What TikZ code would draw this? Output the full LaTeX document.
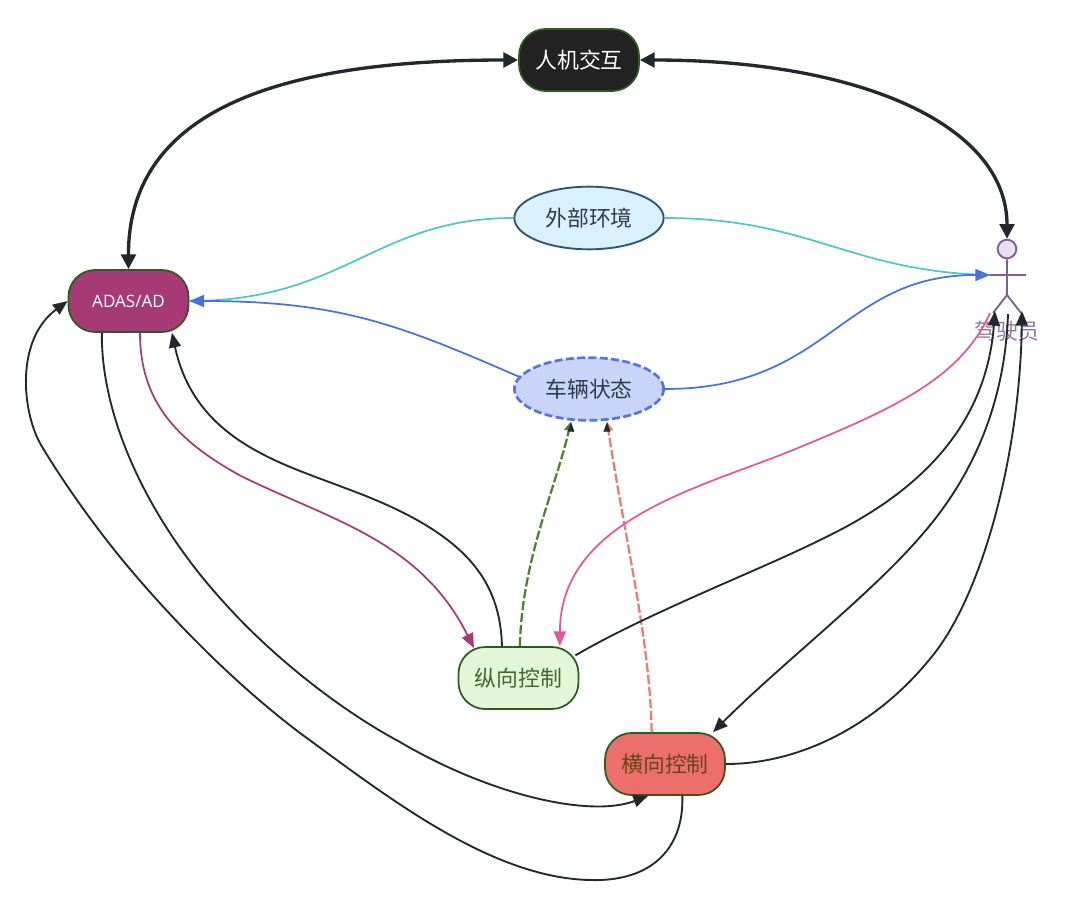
\documentclass[tikz,border=0pt]{standalone}
\usepackage{fontspec}
\setmainfont{Noto Sans CJK SC}
\newfontfamily\latinf{Open Sans}
\usetikzlibrary{arrows.meta,shapes.geometric}
\definecolor{edgeblack}{HTML}{22282C}
\definecolor{nodegreen}{HTML}{2F5A1F}
\definecolor{hcifill}{HTML}{222222}
\definecolor{adasfill}{HTML}{A53A77}
\definecolor{longfill}{HTML}{E2F6D8}
\definecolor{latfill}{HTML}{EC6F6B}
\definecolor{lattext}{HTML}{64481C}
\definecolor{longtext}{HTML}{3F6A2A}
\definecolor{envfill}{HTML}{DAF2FF}
\definecolor{envline}{HTML}{2D5470}
\definecolor{vehfill}{HTML}{C9D5F8}
\definecolor{vehline}{HTML}{5577DD}
\definecolor{txtdark}{HTML}{2F3A4A}
\definecolor{teal1}{HTML}{4CC9C6}
\definecolor{blue1}{HTML}{4A6FE3}
\definecolor{mag1}{HTML}{A53A77}
\definecolor{pink1}{HTML}{E8559F}
\definecolor{dgreen}{HTML}{4F7F2F}
\definecolor{dred}{HTML}{EC7B78}
\definecolor{actline}{HTML}{80608F}
\definecolor{actfill}{HTML}{ECDDF5}
\tikzset{
  box/.style={draw=nodegreen,line width=1.3pt,rounded corners=20pt,minimum width=90pt,minimum height=46.5pt,inner sep=0pt,font=\fontsize{16.4}{18}\selectfont},
  oval/.style={ellipse,line width=1.4pt,minimum width=112pt,minimum height=47pt,inner sep=0pt,font=\fontsize{16.4}{18}\selectfont,text=txtdark},
  conn/.style={line width=1.4pt,draw=edgeblack,-{Triangle[length=11pt,width=9pt,fill=edgeblack]}},
  thick2/.style={line width=2.5pt,draw=edgeblack,{Triangle[length=11pt,width=11pt,fill=edgeblack]}-{Triangle[length=11pt,width=11pt,fill=edgeblack]}},
  plainc/.style={line width=1.3pt},
  colarrow/.style={line width=1.3pt,draw=#1,-{Triangle[length=11pt,width=9pt,fill=#1]}},
  dashc/.style={line width=1.7pt,draw=#1,dash pattern=on 7pt off 2pt,-{Triangle[length=7pt,width=7pt,fill=#1]}},
  smalltip/.style={line width=0.1pt,draw=edgeblack,fill=edgeblack},
  actor/.style={line width=1.4pt,draw=actline}
}
\begin{document}
\begin{tikzpicture}[x=0.75pt,y=-0.75pt]
\useasboundingbox (0,0) rectangle (1080,909);
\node[box,fill=hcifill,text=white] (hci) at (579,60) {人机交互};
\node[oval,draw=envline,fill=envfill] (env) at (589,218) {外部环境};
\node[oval,draw=vehline,fill=vehfill,line width=2pt,dash pattern=on 6pt off 2.5pt] (veh) at (589,389) {车辆状态};
\node[box,fill=adasfill,text=white,font=\latinf\fontsize{12.8}{14}\selectfont] (adas) at (128.5,301) {ADAS/AD};
\node[box,fill=longfill,text=longtext] (long) at (518.5,678) {纵向控制};
\node[box,fill=latfill,text=lattext] (lat) at (665,764) {横向控制};
% driver
\node[circle,actor,fill=actfill,minimum size=14pt,inner sep=0pt] (drhead) at (1007,249) {};
\coordinate (drarmL) at (990,275);
\coordinate (drarmR) at (1026,275);
\coordinate (drhip) at (1007,295);
\coordinate (drlegL) at (993,313);
\coordinate (drlegR) at (1021,313);
\coordinate (drtipL) at (995,311);
\coordinate (drtipR) at (1022,311);
\coordinate (drfoot) at (1008,314);
\coordinate (drpink) at (990,313);
\draw[actor] (drhead.south) -- (drhip) (drarmL) -- (drarmR) (drlegL) -- (drhip) -- (drlegR);
\node[text=actline!85!white,font=\fontsize{16.4}{18}\selectfont] (drlabel) at (1007,331) {驾驶员};
% thick
\draw[thick2] (hci.west) .. controls (290,60) and (128,105) .. (adas.north);
\draw[thick2] (hci.east) .. controls (860,60) and (1007,125) .. (drhead.north);
% environment
\draw[plainc,draw=teal1] (env.west) .. controls (375,218) and (345,301) .. (adas.east);
\draw[plainc,draw=teal1] (env.east) .. controls (810,218) and (850,272) .. (drarmL);
% vehicle
\draw[colarrow=blue1] (veh.170) .. controls (400,325) and (340,301) .. (adas.east);
\draw[colarrow=blue1] (veh.east) .. controls (830,389) and (840,275) .. (drarmL);
% long
\draw[colarrow=mag1] ([xshift=8.6pt]adas.south) .. controls (140,400) and (175,440) .. (241,476) .. controls (330,520) and (420,540) .. ([xshift=-33.4pt,yshift=-1.5pt]long.north);
\draw[conn] ([xshift=-12.4pt]long.north) .. controls (500,575) and (460,530) .. (345,488) .. controls (280,463) and (195,440) .. ([xshift=32.6pt]adas.south);
\draw[dashc=dgreen] ([xshift=1pt]long.north) .. controls (522,560) and (555,490) .. ([xshift=-13.5pt]veh.south);
\draw[dashc=dred] ([xshift=-10pt]lat.north) .. controls (650,640) and (625,540) .. ([xshift=13.5pt]veh.south);
\fill[smalltip] ([xshift=-13.5pt]veh.south) ++(0,1) -- ++(-3.3,9) -- ++(6.6,0) -- cycle;
\fill[smalltip] ([xshift=13.5pt]veh.south) ++(0,1) -- ++(-3.3,9) -- ++(6.6,0) -- cycle;
% driver and long
\draw[colarrow=pink1] (drpink) .. controls (960,380) and (890,410) .. (793,450) .. controls (700,488) and (560,520) .. ([xshift=31pt]long.north);
\draw[conn] ([xshift=-3pt,yshift=17pt]long.east) .. controls (650,612) and (760,570) .. (820,540) .. controls (900,502) and (985,440) .. (drtipL);
% driver and lat
\draw[conn] (drfoot) .. controls (1005,400) and (975,475) .. (920,537) .. controls (870,595) and (780,665) .. ([xshift=36pt]lat.north);
\draw[conn] (lat.east) .. controls (800,764) and (880,725) .. (937,650) .. controls (985,585) and (1020,450) .. (drtipR);
% adas and lat
\draw[conn] ([xshift=-20pt]adas.south) .. controls (101,420) and (150,520) .. (220,598) .. controls (270,655) and (340,710) .. (400,742) .. controls (490,795) and (590,818) .. ([xshift=-12.75pt]lat.south);
\draw[conn] ([xshift=13pt]lat.south) .. controls (684,850) and (650,882) .. (590,880) .. controls (490,878) and (385,795) .. (300,733) .. controls (235,684) and (170,618) .. (120,557) .. controls (90,520) and (62,480) .. (41,445) .. controls (22,412) and (15,340) .. (adas.west);
\end{tikzpicture}
\end{document}
